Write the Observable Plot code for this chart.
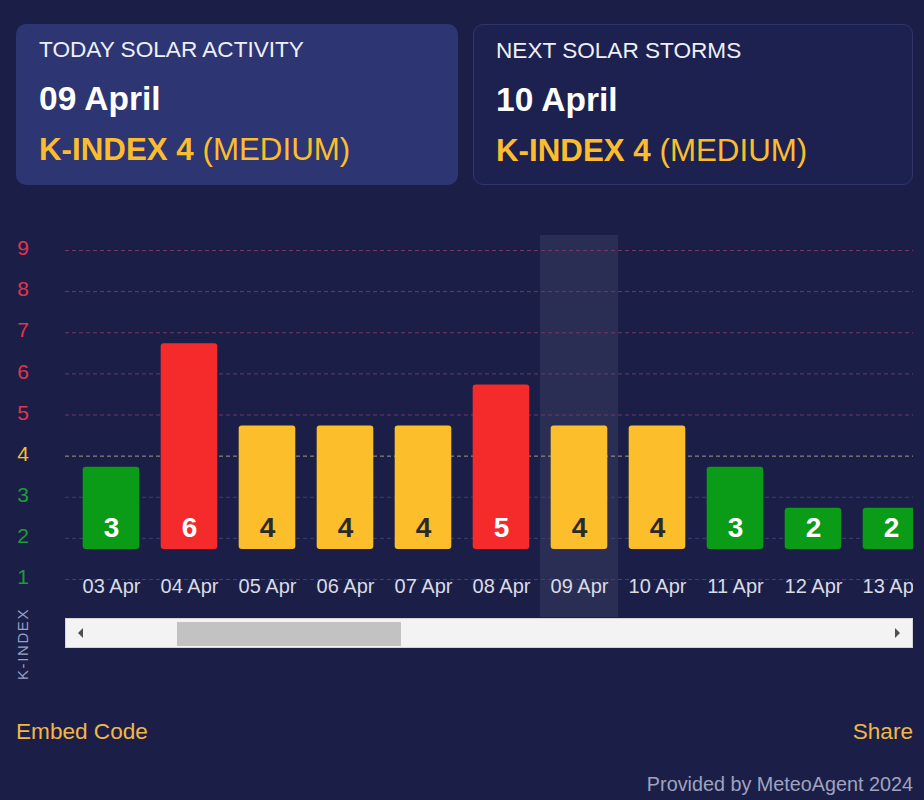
<!DOCTYPE html>
<html>
<head>
<meta charset="utf-8">
<script src="https://cdn.jsdelivr.net/npm/d3@7"></script>
<script src="https://cdn.jsdelivr.net/npm/@observablehq/plot@0.6"></script>
<style>
  html, body { margin: 0; padding: 0; }
  body { width: 924px; height: 800px; background: #1b1f47; position: relative; overflow: hidden;
         font-family: "Liberation Sans", Arial, Helvetica, sans-serif; }
  .card { position: absolute; top: 24px; height: 161px; border-radius: 10px; box-sizing: border-box; }
  #card1 { left: 16px; width: 442px; background: #2d3572; }
  #card2 { left: 473px; width: 440px; background: #1d2150; border: 1px solid #30366a; }
  .t { position: absolute; left: 23px; line-height: 1; white-space: nowrap; }
  #card2 .t { left: 22px; }
  .title { top: 15px; font-size: 22.6px; color: #eef0f8; }
  .date { top: 58px; font-size: 33.5px; font-weight: bold; color: #ffffff; }
  .kidx { top: 110px; font-size: 31.3px; color: #fbbd2e; }
  .kidx b { font-weight: bold; }
  #chart { position: absolute; left: 0; top: 220px; }
  #scroll { position: absolute; left: 65px; top: 618px; width: 848px; height: 30px; background: #f3f3f3;
            box-sizing: border-box; border: 1px solid #d4d4d4; }
  #thumb { position: absolute; left: 111px; top: 3px; width: 224px; height: 24px; background: #c2c2c2; }
  .arr { position: absolute; top: 9px; width: 0; height: 0; border-top: 5px solid transparent; border-bottom: 5px solid transparent; }
  #arrL { left: 12px; border-right: 5px solid #505050; }
  #arrR { right: 12px; border-left: 5px solid #505050; }
  #ylab { position: absolute; left: 22px; top: 644px; transform: translate(-50%, -50%) rotate(-90deg);
          font-size: 15px; letter-spacing: 1.6px; color: #9aa0c4; white-space: nowrap; }
  .foot { position: absolute; font-size: 22.6px; color: #f2b645; line-height: 1; }
  #embed { left: 16px; top: 721px; }
  #share { right: 11px; top: 721px; }
  #prov { position: absolute; right: 11px; top: 775px; font-size: 19.8px; color: #a0a3c0; line-height: 1; }
</style>
</head>
<body>
<div class="card" id="card1">
  <div class="t title">TODAY SOLAR ACTIVITY</div>
  <div class="t date">09 April</div>
  <div class="t kidx"><b>K-INDEX 4</b> (MEDIUM)</div>
</div>
<div class="card" id="card2">
  <div class="t title">NEXT SOLAR STORMS</div>
  <div class="t date">10 April</div>
  <div class="t kidx"><b>K-INDEX 4</b> (MEDIUM)</div>
</div>
<div id="chart"></div>
<div id="scroll"><div id="arrL" class="arr"></div><div id="thumb"></div><div id="arrR" class="arr"></div></div>
<div id="ylab">K-INDEX</div>
<div class="foot" id="embed">Embed Code</div>
<div class="foot" id="share">Share</div>
<div id="prov">Provided by MeteoAgent 2024</div>
<script>
const dates = ["03 Apr", "04 Apr", "05 Apr", "06 Apr", "07 Apr", "08 Apr", "09 Apr", "10 Apr", "11 Apr", "12 Apr", "13 Apr"];
const kIndex = [3, 6, 4, 4, 4, 5, 4, 4, 3, 2, 2];
const yTicks = [1, 2, 3, 4, 5, 6, 7, 8, 9];
const today = "09 Apr";

const data = dates.map((d, i) => ({date: d, k: kIndex[i]}));
const shift = 0.73;           // bars sit above the gridline positions
const base = 1 + shift;
const level = k => k >= 5 ? "high" : k === 4 ? "medium" : "low";
const barColor = {low: "#0a9c17", medium: "#fcbf2b", high: "#f52b2b"};
const tickColor = {low: "#1d9b3b", medium: "#f2c12e", high: "#e0364d"};
const gridColor = {low: "#3a4275", medium: "#a39b7d", high: "#743764"};
const valueColor = {low: "#ffffff", medium: "#2a2a2a", high: "#ffffff"};

const chart = Plot.plot({
  width: 924, height: 430,
  marginLeft: 65, marginRight: 11, marginTop: 15, marginBottom: 33,
  style: {background: "transparent", fontFamily: "Liberation Sans, Arial, sans-serif", overflow: "visible"},
  x: {type: "band", domain: dates, range: [70.35, 932], padding: 0, axis: null},
  y: {domain: [1, 9], range: [359, 30], axis: null},
  color: {type: "identity"},
  marks: [
    Plot.cell([today], {x: d => d, fill: "#ffffff", fillOpacity: 0.07}),
    Plot.ruleY(yTicks, {y: d => d, stroke: d => gridColor[level(d)], strokeDasharray: "4,3", strokeWidth: 1}),
    Plot.text(yTicks, {y: d => d, text: d => String(d), frameAnchor: "left", textAnchor: "middle", dx: -42.5, dy: -2,
                       fill: d => tickColor[level(d)], fontSize: 21}),
    Plot.rectY(data, {x: "date", y1: () => base, y2: d => d.k + shift, fill: d => barColor[level(d.k)],
                      insetLeft: 10.7, insetRight: 10.7, rx: 3, clip: true}),
    Plot.text(data, {x: "date", y: () => base, dy: -21, text: d => String(d.k), fill: d => valueColor[level(d.k)],
                     fontSize: 28, fontWeight: "bold", clip: true}),
    Plot.text(dates, {x: d => d, frameAnchor: "bottom", dy: -25, text: d => d, fill: "#d9dbe6", fontSize: 20, clip: true})
  ]
});
document.getElementById("chart").appendChild(chart);
</script>
</body>
</html>
